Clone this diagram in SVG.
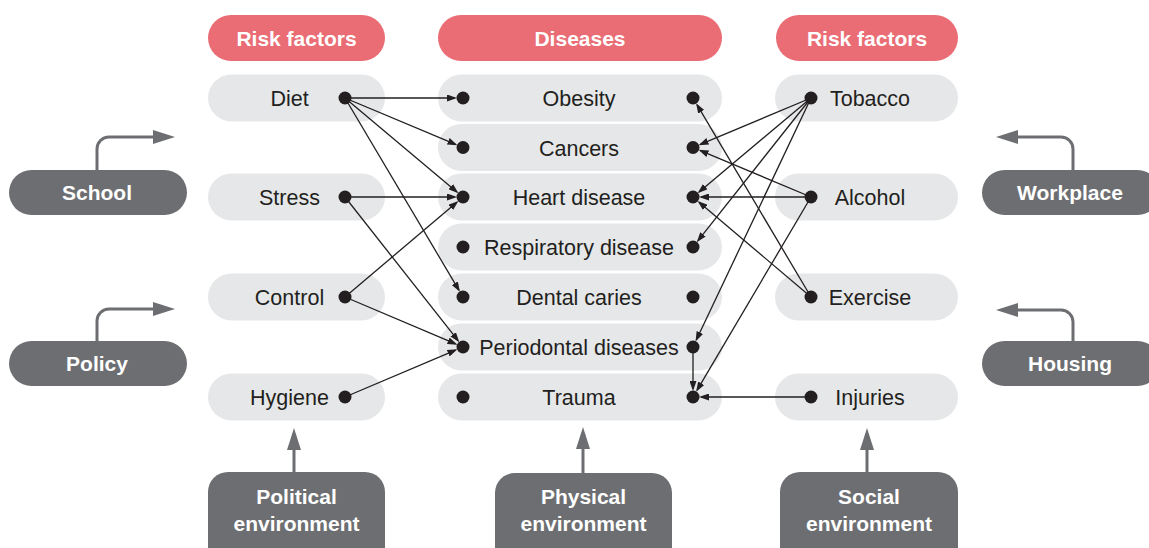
<svg xmlns="http://www.w3.org/2000/svg" width="1149" height="548" viewBox="0 0 1149 548">
<defs>
<style>
.hdr{fill:#ea6c74}
.hdrt{font-family:"Liberation Sans",Arial,sans-serif;font-size:21px;font-weight:bold;fill:#fff;text-anchor:middle}
.box{fill:#e6e7e8}
.lbl{font-family:"Liberation Sans",Arial,sans-serif;font-size:21.5px;fill:#231f20;text-anchor:middle}
.dk{fill:#6d6e71}
.dkt{font-family:"Liberation Sans",Arial,sans-serif;font-size:21px;font-weight:bold;fill:#fff;text-anchor:middle}
.dot{fill:#231f20}
.cn{stroke:#231f20;stroke-width:1.3;fill:none;marker-end:url(#ah)}
.gc{stroke:#6d6e71;stroke-width:3;fill:none;marker-end:url(#gh)}
</style>
<marker id="ah" markerUnits="userSpaceOnUse" markerWidth="10" markerHeight="7" refX="8" refY="3.5" orient="auto">
<path d="M0,0 L10,3.5 L0,7 z" fill="#231f20"/>
</marker>
<marker id="gh" markerUnits="userSpaceOnUse" markerWidth="22" markerHeight="14" refX="2" refY="7" orient="auto">
<path d="M0,0 L22,7 L0,14 z" fill="#6d6e71"/>
</marker>
</defs>
<rect width="1149" height="548" fill="#fff"/>

<g id="hdr-left"><rect class="hdr" x="208" y="15" width="177" height="46" rx="23"/><text class="hdrt" x="296.5" y="45.5">Risk factors</text></g>
<g id="hdr-diseases"><rect class="hdr" x="438" y="15" width="284" height="46" rx="23"/><text class="hdrt" x="580" y="45.5">Diseases</text></g>
<g id="hdr-right"><rect class="hdr" x="776" y="15" width="182" height="46" rx="23"/><text class="hdrt" x="867" y="45.5">Risk factors</text></g>

<g id="diet"><rect class="box" x="208" y="74.5" width="177" height="47" rx="23.5"/><text class="lbl" x="289.5" y="106">Diet</text><circle class="dot" cx="345" cy="98" r="6.5"/></g>
<g id="stress"><rect class="box" x="208" y="173.5" width="177" height="47" rx="23.5"/><text class="lbl" x="289.5" y="205">Stress</text><circle class="dot" cx="345" cy="197" r="6.5"/></g>
<g id="control"><rect class="box" x="208" y="273.5" width="177" height="47" rx="23.5"/><text class="lbl" x="289.5" y="305">Control</text><circle class="dot" cx="345" cy="297" r="6.5"/></g>
<g id="hygiene"><rect class="box" x="208" y="373.5" width="177" height="47" rx="23.5"/><text class="lbl" x="289.5" y="405">Hygiene</text><circle class="dot" cx="345" cy="397" r="6.5"/></g>

<g id="obesity"><rect class="box" x="438" y="74.5" width="284" height="47" rx="23.5"/><text class="lbl" x="579" y="106">Obesity</text><circle class="dot" cx="463" cy="98" r="6.5"/><circle class="dot" cx="693" cy="98" r="6.5"/></g>
<g id="cancers"><rect class="box" x="438" y="124" width="284" height="47" rx="23.5"/><text class="lbl" x="579" y="155.5">Cancers</text><circle class="dot" cx="463" cy="147.5" r="6.5"/><circle class="dot" cx="693" cy="147.5" r="6.5"/></g>
<g id="heart"><rect class="box" x="438" y="173.5" width="284" height="47" rx="23.5"/><text class="lbl" x="579" y="205">Heart disease</text><circle class="dot" cx="463" cy="197" r="6.5"/><circle class="dot" cx="693" cy="197" r="6.5"/></g>
<g id="respiratory"><rect class="box" x="438" y="223.5" width="284" height="47" rx="23.5"/><text class="lbl" x="579" y="255">Respiratory disease</text><circle class="dot" cx="463" cy="247" r="6.5"/><circle class="dot" cx="693" cy="247" r="6.5"/></g>
<g id="dental"><rect class="box" x="438" y="273.5" width="284" height="47" rx="23.5"/><text class="lbl" x="579" y="305">Dental caries</text><circle class="dot" cx="463" cy="297" r="6.5"/><circle class="dot" cx="693" cy="297" r="6.5"/></g>
<g id="periodontal"><rect class="box" x="438" y="323.5" width="284" height="47" rx="23.5"/><text class="lbl" x="579" y="355">Periodontal diseases</text><circle class="dot" cx="463" cy="347" r="6.5"/><circle class="dot" cx="693" cy="347" r="6.5"/></g>
<g id="trauma"><rect class="box" x="438" y="373.5" width="284" height="47" rx="23.5"/><text class="lbl" x="579" y="405">Trauma</text><circle class="dot" cx="463" cy="397" r="6.5"/><circle class="dot" cx="693" cy="397" r="6.5"/></g>

<g id="tobacco"><rect class="box" x="775" y="74.5" width="183" height="47" rx="23.5"/><text class="lbl" x="870" y="106">Tobacco</text><circle class="dot" cx="811" cy="98" r="6.5"/></g>
<g id="alcohol"><rect class="box" x="775" y="173.5" width="183" height="47" rx="23.5"/><text class="lbl" x="870" y="205">Alcohol</text><circle class="dot" cx="811" cy="197" r="6.5"/></g>
<g id="exercise"><rect class="box" x="775" y="273.5" width="183" height="47" rx="23.5"/><text class="lbl" x="870" y="305">Exercise</text><circle class="dot" cx="811" cy="297" r="6.5"/></g>
<g id="injuries"><rect class="box" x="775" y="373.5" width="183" height="47" rx="23.5"/><text class="lbl" x="870" y="405">Injuries</text><circle class="dot" cx="811" cy="397" r="6.5"/></g>

<g id="school"><rect class="dk" x="9" y="170" width="178" height="45" rx="22.5"/><text class="dkt" x="97" y="200">School</text></g>
<g id="policy"><rect class="dk" x="9" y="341" width="178" height="45" rx="22.5"/><text class="dkt" x="97" y="371">Policy</text></g>
<g id="workplace"><rect class="dk" x="982" y="170" width="178" height="45" rx="22.5"/><text class="dkt" x="1070" y="200">Workplace</text></g>
<g id="housing"><rect class="dk" x="982" y="341" width="178" height="45" rx="22.5"/><text class="dkt" x="1070" y="371">Housing</text></g>

<g id="political"><rect class="dk" x="208" y="472" width="177" height="100" rx="20"/><text class="dkt" x="296.5" y="504">Political</text><text class="dkt" x="296.5" y="531">environment</text></g>
<g id="physical"><rect class="dk" x="495" y="473" width="177" height="100" rx="20"/><text class="dkt" x="583.5" y="504">Physical</text><text class="dkt" x="583.5" y="531">environment</text></g>
<g id="social"><rect class="dk" x="780" y="472" width="178" height="100" rx="20"/><text class="dkt" x="869" y="504">Social</text><text class="dkt" x="869" y="531">environment</text></g>

<g id="connectors">
<line class="cn" x1="345" y1="98" x2="455" y2="98"/>
<line class="cn" x1="345" y1="98" x2="455.6" y2="144.4"/>
<line class="cn" x1="345" y1="98" x2="456.9" y2="191.9"/>
<line class="cn" x1="345" y1="98" x2="458.9" y2="290.1"/>
<line class="cn" x1="345" y1="197" x2="455" y2="197"/>
<line class="cn" x1="345" y1="197" x2="458.1" y2="340.7"/>
<line class="cn" x1="345" y1="297" x2="456.9" y2="202.2"/>
<line class="cn" x1="345" y1="297" x2="455.6" y2="343.9"/>
<line class="cn" x1="345" y1="397" x2="455.6" y2="350.1"/>
<line class="cn" x1="811" y1="98" x2="700.4" y2="144.4"/>
<line class="cn" x1="811" y1="98" x2="699.1" y2="191.9"/>
<line class="cn" x1="811" y1="98" x2="698" y2="240.7"/>
<line class="cn" x1="811" y1="98" x2="696.4" y2="339.8"/>
<line class="cn" x1="811" y1="197" x2="700.4" y2="150.6"/>
<line class="cn" x1="811" y1="197" x2="701" y2="197"/>
<line class="cn" x1="811" y1="197" x2="697.1" y2="390.1"/>
<line class="cn" x1="811" y1="297" x2="697.1" y2="104.9"/>
<line class="cn" x1="811" y1="297" x2="699.1" y2="202.2"/>
<line class="cn" x1="811" y1="397" x2="701" y2="397"/>
<line class="cn" x1="693" y1="347" x2="693" y2="389"/>
<path class="gc" d="M97,170 V149 A12,12 0 0 1 109,137 H155"/>
<path class="gc" d="M97,341 V321 A12,12 0 0 1 109,309 H155"/>
<path class="gc" d="M1073,170 V149 A12,12 0 0 0 1061,137 H1016"/>
<path class="gc" d="M1073,341 V322 A12,12 0 0 0 1061,310 H1016"/>
<path class="gc" d="M294,472 V448"/>
<path class="gc" d="M583,473 V447"/>
<path class="gc" d="M867,472 V448"/>
</g>
</svg>
